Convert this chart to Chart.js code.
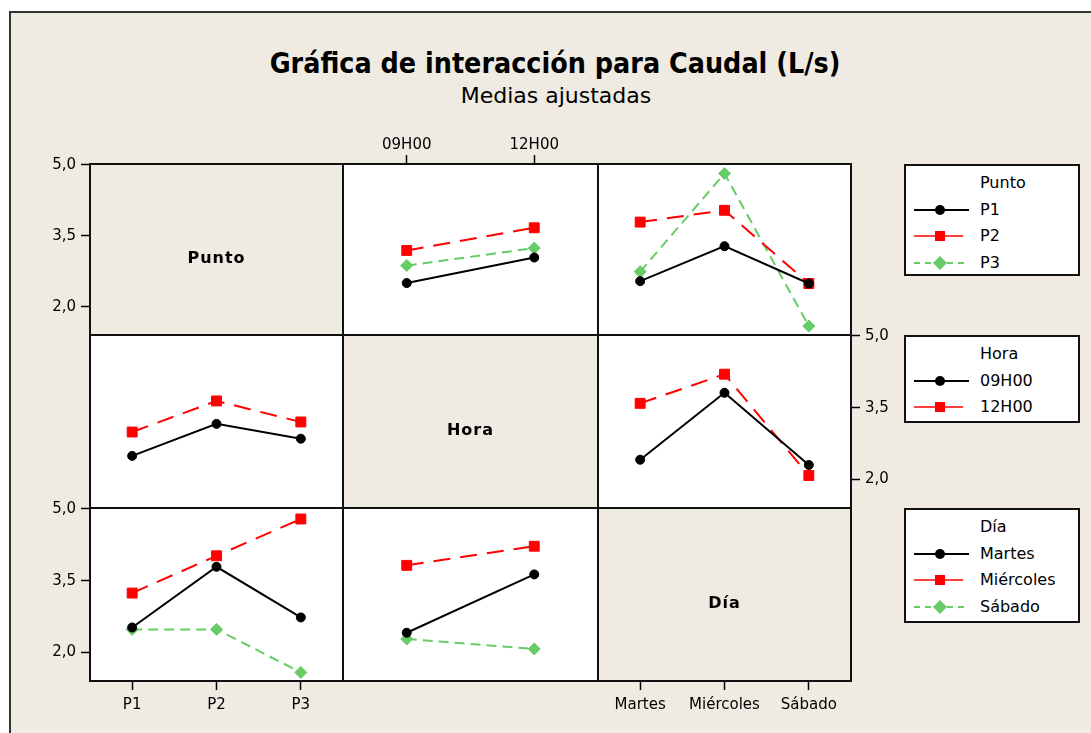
<!DOCTYPE html>
<html>
<head>
<meta charset="utf-8">
<script src="https://cdn.jsdelivr.net/npm/chart.js@4"></script>
<style>
  body { margin: 0; background: #fff; }
  #page { position: relative; width: 1091px; height: 733px; overflow: hidden; background: #fff; }
  #frame { position: absolute; left: 9px; top: 11px; width: 1100px; height: 740px;
           background: #efebe2; border-left: 2px solid #333; border-top: 2px solid #333; }
  .title { position: absolute; left: 0; width: 1110px; top: 46px; text-align: center;
           font: bold 29px "DejaVu Sans", sans-serif; line-height: 34px; color: #000;
           transform: scaleX(0.88); transform-origin: 555px 0; }
  .sub { position: absolute; left: 0; width: 1112px; top: 83px; text-align: center;
         font: 22px "DejaVu Sans", sans-serif; line-height: 26px; color: #000; }
  .cell { position: absolute; }
  .legend { position: absolute; left: 904px; width: 172px; background: #fff;
            border: 2px solid #111; font: 16px "DejaVu Sans", sans-serif; color: #000; }
  .legend .row { position: absolute; left: 0; width: 100%; height: 26px; }
  .legend .row span { position: absolute; left: 74px; top: 3px; line-height: 20px; }
  .legend .row svg { position: absolute; left: 8px; top: 3px; }
</style>
</head>
<body>
<div id="page">
  <div id="frame"></div>
  <div class="title">Gráfica de interacción para Caudal (L/s)</div>
  <div class="sub">Medias ajustadas</div>
</div>
<script>
// categorías
const puntos = ['P1', 'P2', 'P3'];
const horas = ['09H00', '12H00'];
const dias = ['Martes', 'Miércoles', 'Sábado'];
const yTicks = [2.0, 3.5, 5.0];

// fila Punto
const p1PorHora = [2.50, 3.04];
const p2PorHora = [3.19, 3.67];
const p3PorHora = [2.87, 3.24];
const p1PorDia = [2.54, 3.28, 2.49];
const p2PorDia = [3.79, 4.04, 2.49];
const p3PorDia = [2.74, 4.82, 1.59];

// fila Hora
const h09PorPunto = [2.49, 3.16, 2.85];
const h12PorPunto = [2.99, 3.64, 3.20];
const h09PorDia = [2.41, 3.81, 2.30];
const h12PorDia = [3.59, 4.20, 2.08];

// fila Día
const martesPorPunto = [2.52, 3.79, 2.73];
const miercolesPorPunto = [3.24, 4.02, 4.79];
const sabadoPorPunto = [2.48, 2.48, 1.58];
const martesPorHora = [2.41, 3.63];
const miercolesPorHora = [3.82, 4.22];
const sabadoPorHora = [2.28, 2.07];

const colX = [90, 343, 598, 851];
const rowY = [164, 335, 508, 681];
const M = 50;
const beige = '#efebe2';

Chart.defaults.font.family = '"DejaVu Sans", sans-serif';
Chart.defaults.color = '#000';

const estilos = [
  { color: '#000', dash: [], point: 'circle', radius: 4.5 },
  { color: '#ff0000', dash: [17, 10], point: 'rect', radius: 7 },
  { color: '#66cc66', dash: [10, 6], point: 'rectRot', radius: 6 }
];

function serie(data, i) {
  const e = estilos[i];
  return {
    data: data,
    borderColor: e.color,
    borderWidth: 2,
    borderDash: e.dash,
    tension: 0,
    pointStyle: e.point,
    pointRadius: e.radius,
    pointBackgroundColor: e.color,
    pointBorderColor: e.color,
    pointBorderWidth: 1,
    clip: false
  };
}

const cellPlugin = {
  id: 'cell',
  beforeDraw(chart, args, opts) {
    const { ctx, chartArea: a } = chart;
    ctx.save();
    ctx.fillStyle = opts.fill;
    ctx.fillRect(a.left, a.top, a.right - a.left, a.bottom - a.top);
    ctx.restore();
  },
  afterDraw(chart, args, opts) {
    const { ctx, chartArea: a } = chart;
    ctx.save();
    ctx.strokeStyle = '#111';
    ctx.lineWidth = 2;
    ctx.strokeRect(a.left, a.top, a.right - a.left, a.bottom - a.top);
    if (opts.label) {
      ctx.fillStyle = '#000';
      ctx.font = 'bold 16px "DejaVu Sans", sans-serif';
      ctx.letterSpacing = '1px';
      ctx.textAlign = 'center';
      ctx.textBaseline = 'middle';
      ctx.fillText(opts.label, (a.left + a.right) / 2, (a.top + a.bottom) / 2 + 9);
    }
    ctx.restore();
  }
};

function cellChart(row, col, cfg) {
  const left = colX[col], top = rowY[row];
  const w = colX[col + 1] - left, h = rowY[row + 1] - top;
  const div = document.createElement('div');
  div.className = 'cell';
  div.style.left = (left - M) + 'px';
  div.style.top = (top - M) + 'px';
  const cv = document.createElement('canvas');
  cv.width = w + 2 * M;
  cv.height = h + 2 * M;
  div.appendChild(cv);
  document.getElementById('page').appendChild(div);

  const xPos = cfg.xPos || 'bottom';
  const yPos = cfg.yPos || 'left';
  const tickFont = { size: 15 };

  new Chart(cv, {
    type: 'line',
    data: { labels: cfg.labels, datasets: cfg.datasets || [] },
    options: {
      responsive: false,
      animation: false,
      layout: {
        padding: {
          left: yPos === 'left' ? 0 : M,
          right: yPos === 'right' ? 0 : M,
          top: xPos === 'top' ? 0 : M,
          bottom: xPos === 'bottom' ? 0 : M
        }
      },
      plugins: {
        legend: { display: false },
        tooltip: { enabled: false },
        cell: { fill: cfg.label ? beige : '#fff', label: cfg.label }
      },
      scales: {
        x: {
          type: 'category',
          offset: true,
          position: xPos,
          ticks: { display: !!cfg.xShow, font: tickFont, padding: xPos === 'top' ? 1 : 6, maxRotation: 0, autoSkip: false },
          grid: { display: !!cfg.xShow, drawOnChartArea: false, tickLength: 9, tickColor: '#000', tickWidth: 1.5 },
          border: { display: false },
          afterFit: s => { s.height = M; }
        },
        y: {
          min: 1.4,
          max: 5.02,
          position: yPos,
          afterBuildTicks: s => { s.ticks = yTicks.map(v => ({ value: v })); },
          ticks: {
            display: !!cfg.yShow,
            font: tickFont,
            padding: 5,
            callback: v => v.toFixed(1).replace('.', ',')
          },
          grid: { display: !!cfg.yShow, drawOnChartArea: false, tickLength: 9, tickColor: '#000', tickWidth: 1.5 },
          border: { display: false },
          afterFit: s => { s.width = M; }
        }
      }
    },
    plugins: [cellPlugin]
  });
}

// fila 1: Punto
cellChart(0, 0, { labels: puntos, label: 'Punto', yShow: true });
cellChart(0, 1, { labels: horas, xPos: 'top', xShow: true,
  datasets: [serie(p1PorHora, 0), serie(p2PorHora, 1), serie(p3PorHora, 2)] });
cellChart(0, 2, { labels: dias,
  datasets: [serie(p1PorDia, 0), serie(p2PorDia, 1), serie(p3PorDia, 2)] });

// fila 2: Hora
cellChart(1, 0, { labels: puntos,
  datasets: [serie(h09PorPunto, 0), serie(h12PorPunto, 1)] });
cellChart(1, 1, { labels: horas, label: 'Hora' });
cellChart(1, 2, { labels: dias, yPos: 'right', yShow: true,
  datasets: [serie(h09PorDia, 0), serie(h12PorDia, 1)] });

// fila 3: Día
cellChart(2, 0, { labels: puntos, xShow: true, yShow: true,
  datasets: [serie(martesPorPunto, 0), serie(miercolesPorPunto, 1), serie(sabadoPorPunto, 2)] });
cellChart(2, 1, { labels: horas,
  datasets: [serie(martesPorHora, 0), serie(miercolesPorHora, 1), serie(sabadoPorHora, 2)] });
cellChart(2, 2, { labels: dias, label: 'Día', xShow: true });

// leyendas
function muestra(i) {
  const e = estilos[i];
  const dash = e.dash.length ? ' stroke-dasharray="6,5"' : '';
  let mark;
  if (e.point === 'circle') mark = '<circle cx="26" cy="10" r="5" fill="' + e.color + '"/>';
  else if (e.point === 'rect') mark = '<rect x="21" y="5" width="10" height="10" fill="' + e.color + '"/>';
  else mark = '<polygon points="19,10 26,3 33,10 26,17" fill="' + e.color + '"/>';
  const len = i === 1 ? 49 : 55;
  return '<svg width="58" height="20"><line x1="0" y1="10" x2="' + len + '" y2="10" stroke="' + e.color +
    '" stroke-width="' + (i === 1 ? 1.5 : 2) + '"' + (i === 1 ? '' : dash) + '/>' + mark + '</svg>';
}

function leyenda(top, height, titulo, items) {
  const box = document.createElement('div');
  box.className = 'legend';
  box.style.top = top + 'px';
  box.style.height = height + 'px';
  let html = '<div class="row" style="top:4px"><span>' + titulo + '</span></div>';
  items.forEach((t, i) => {
    html += '<div class="row" style="top:' + (4 + 26.5 * (i + 1)) + 'px">' + muestra(i) + '<span>' + t + '</span></div>';
  });
  box.innerHTML = html;
  document.getElementById('page').appendChild(box);
}

leyenda(164, 108, 'Punto', puntos);
leyenda(335, 84, 'Hora', horas);
leyenda(508, 111, 'Día', dias);
</script>
</body>
</html>
